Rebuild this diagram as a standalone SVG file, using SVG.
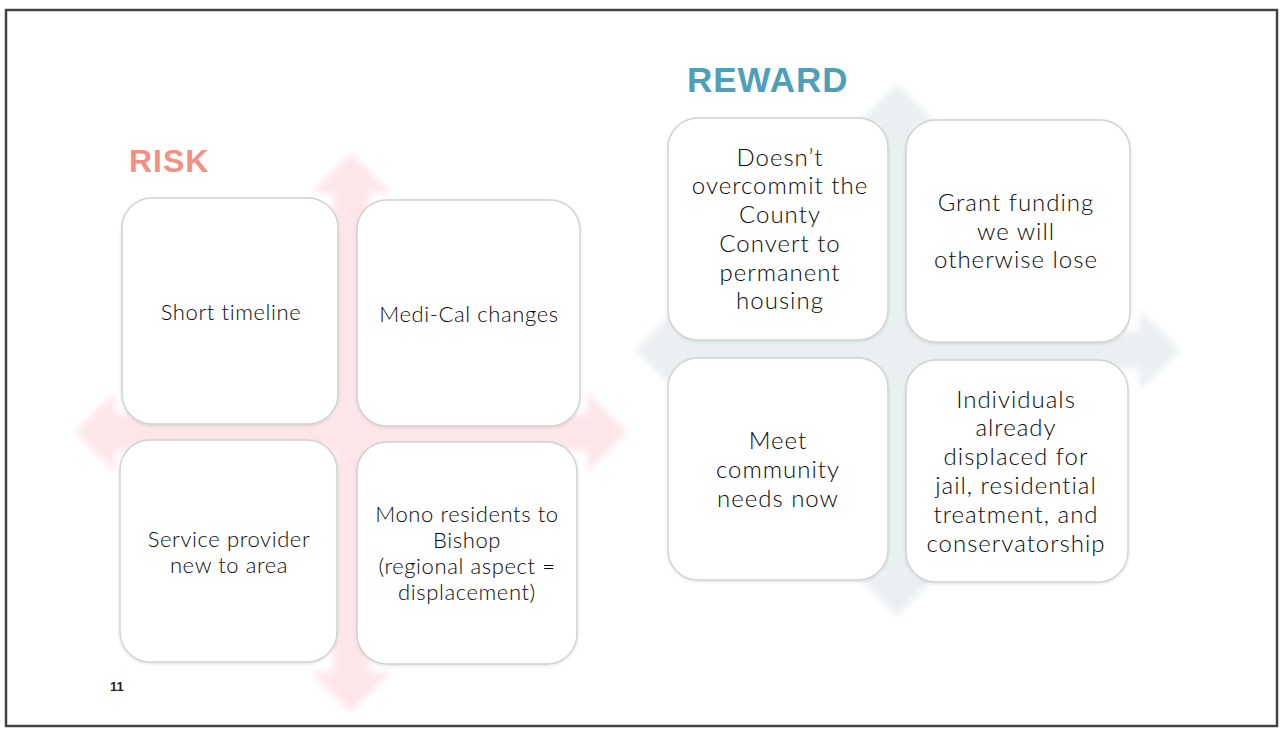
<svg xmlns="http://www.w3.org/2000/svg" width="1280" height="731" viewBox="0 0 1280 731">
<defs>
<filter id="soft" x="-10%" y="-10%" width="120%" height="120%"><feGaussianBlur stdDeviation="3.5"/></filter>
<filter id="shadow" x="-10%" y="-10%" width="120%" height="120%"><feDropShadow dx="0" dy="1" stdDeviation="1.5" flood-color="#000" flood-opacity="0.12"/></filter>
</defs>
<style>
.box{fill:#ffffff;stroke:#d2d2d2;stroke-width:1.5;}
.t{font-family:Lato,"Open Sans","Liberation Sans",sans-serif;font-weight:300;font-size:22px;letter-spacing:0.6px;fill:#0a0a0a;text-anchor:middle;}
.r{font-size:24px;letter-spacing:1px;}
.title{font-family:"Liberation Sans",Arial,sans-serif;font-weight:bold;}
</style>
<rect x="0" y="0" width="1280" height="731" fill="#ffffff"/>
<rect id="frame" x="6" y="10" width="1271" height="716" fill="none" stroke="#444" stroke-width="2.5"/>

<g id="connectors">
<path id="risk-arrow" filter="url(#soft)" fill="#fde6ea" d="M351,153 L391,193 L369,193 L369,414 L587,414 L587,392 L627,432 L587,472 L587,450 L369,450 L369,672 L391,672 L351,712 L311,672 L333,672 L333,450 L115,450 L115,472 L75,432 L115,392 L115,414 L333,414 L333,193 L311,193 Z"/>
<path id="reward-arrow" filter="url(#soft)" fill="#eaeff2" d="M897,84 L937,124 L915,124 L915,332 L1140,332 L1140,310 L1180,350 L1140,390 L1140,368 L915,368 L915,576 L937,576 L897,616 L857,576 L879,576 L879,368 L675,368 L675,390 L635,350 L675,310 L675,332 L879,332 L879,124 L857,124 Z"/>
</g>

<text id="risk-title" class="title" x="129" y="172" font-size="32" fill="#f4907f" letter-spacing="1">RISK</text>
<text id="reward-title" class="title" x="687" y="92" font-size="35" fill="#4d9fba" letter-spacing="1">REWARD</text>

<g id="risk-tl"><rect class="box" filter="url(#shadow)" x="122" y="198" width="216" height="226" rx="30"/>
<text class="t" x="231" y="320">Short timeline</text></g>
<g id="risk-tr"><rect class="box" filter="url(#shadow)" x="357" y="200" width="223" height="226" rx="30"/>
<text class="t" x="469" y="322">Medi-Cal changes</text></g>
<g id="risk-bl"><rect class="box" filter="url(#shadow)" x="120" y="440" width="217" height="222" rx="30"/>
<text class="t" x="229" y="547">Service provider</text><text class="t" x="229" y="573">new to area</text></g>
<g id="risk-br"><rect class="box" filter="url(#shadow)" x="357" y="442" width="220" height="222" rx="30"/>
<text class="t" x="467" y="522">Mono residents to</text><text class="t" x="467" y="548">Bishop</text><text class="t" x="467" y="574">(regional aspect =</text><text class="t" x="467" y="600">displacement)</text></g>

<g id="reward-tl"><rect class="box" filter="url(#shadow)" x="668" y="118" width="220" height="222" rx="30"/>
<text class="t r" x="780" y="166">Doesn’t</text><text class="t r" x="780" y="194">overcommit the</text><text class="t r" x="780" y="223">County</text><text class="t r" x="780" y="252">Convert to</text><text class="t r" x="780" y="281">permanent</text><text class="t r" x="780" y="309">housing</text></g>
<g id="reward-tr"><rect class="box" filter="url(#shadow)" x="906" y="120" width="224" height="222" rx="30"/>
<text class="t r" x="1016" y="211">Grant funding</text><text class="t r" x="1016" y="240">we will</text><text class="t r" x="1016" y="268">otherwise lose</text></g>
<g id="reward-bl"><rect class="box" filter="url(#shadow)" x="668" y="358" width="220" height="222" rx="30"/>
<text class="t r" x="778" y="449">Meet</text><text class="t r" x="778" y="478">community</text><text class="t r" x="778" y="507">needs now</text></g>
<g id="reward-br"><rect class="box" filter="url(#shadow)" x="906" y="360" width="222" height="222" rx="30"/>
<text class="t r" x="1016" y="408">Individuals</text><text class="t r" x="1016" y="436">already</text><text class="t r" x="1016" y="465">displaced for</text><text class="t r" x="1016" y="494">jail, residential</text><text class="t r" x="1016" y="523">treatment, and</text><text class="t r" x="1016" y="552">conservatorship</text></g>

<text id="page-num" x="110" y="691" font-family="'Liberation Sans',Arial,sans-serif" font-weight="bold" font-size="13" fill="#222">11</text>
</svg>
